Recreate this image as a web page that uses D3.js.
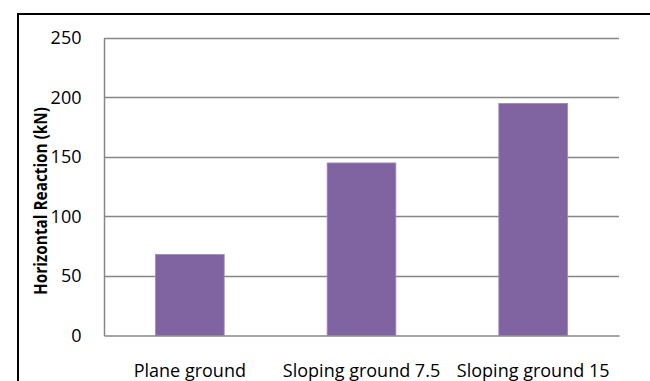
<!DOCTYPE html>
<html>
<head>
<meta charset="utf-8">
<script src="https://cdn.jsdelivr.net/npm/d3@7"></script>
<style>
  html, body { margin: 0; padding: 0; background: #fff; }
  svg { display: block; }
  text { font-family: "Open Sans", "Liberation Sans", sans-serif; fill: #000; }
</style>
</head>
<body>
<svg id="chart" width="650" height="381"></svg>
<script>
// Horizontal reaction for each ground configuration
const categories = ["Plane ground", "Sloping ground 7.5", "Sloping ground 15"];
const reactions = [68, 145, 195];
const yTicks = [0, 50, 100, 150, 200, 250];
const yTitle = "Horizontal Reaction (kN)";

const svg = d3.select("#chart");
const plot = { left: 104, right: 619, top: 38, bottom: 335.5 };
const labelSize = 18;

// Chart-area frame (top and left edges visible)
svg.append("path")
  .attr("d", "M18,400 L18,14 L660,14")
  .attr("fill", "none")
  .attr("stroke", "#000")
  .attr("stroke-width", 2);

const x = d3.scaleBand()
  .domain(categories)
  .range([plot.left, plot.right])
  .paddingInner(0.6)
  .paddingOuter(0.3);

const y = d3.scaleLinear()
  .domain([0, 250])
  .range([plot.bottom, plot.top]);

// Horizontal gridlines
svg.append("g")
  .selectAll("line")
  .data(yTicks.filter(t => t > 0))
  .join("line")
  .attr("x1", plot.left)
  .attr("x2", plot.right)
  .attr("y1", d => Math.round(y(d)) + 0.5)
  .attr("y2", d => Math.round(y(d)) + 0.5)
  .attr("stroke", "#868686")
  .attr("stroke-width", 1.3);

// Bars
svg.append("g")
  .selectAll("rect")
  .data(reactions)
  .join("rect")
  .attr("x", (d, i) => x(categories[i]))
  .attr("width", x.bandwidth())
  .attr("y", d => y(d))
  .attr("height", d => y(0) - y(d))
  .attr("fill", "#8064A2")
  .attr("stroke", "#9d86bb")
  .attr("stroke-width", 0.8);

// Y axis (value axis) with left spine
const yAxis = d3.axisLeft(y).tickValues(yTicks).tickSize(0).tickPadding(22.5);
const gy = svg.append("g")
  .attr("transform", `translate(${plot.left},0)`)
  .call(yAxis);
gy.select(".domain").attr("stroke", "#868686").attr("stroke-width", 1.5);
gy.selectAll("text")
  .attr("font-size", labelSize)
  .attr("font-family", "'Open Sans', sans-serif")
  .attr("fill", "#000");

// X axis (category axis)
const xAxis = d3.axisBottom(x).tickSize(0).tickPadding(29);
const gx = svg.append("g")
  .attr("transform", `translate(0,${plot.bottom})`)
  .call(xAxis);
gx.select(".domain").attr("stroke", "#868686").attr("stroke-width", 1.5);
gx.selectAll("text")
  .attr("font-size", labelSize)
  .attr("font-family", "'Open Sans', sans-serif")
  .attr("fill", "#000");

// Y axis title
svg.append("text")
  .attr("transform", "translate(46.5,201) rotate(-90)")
  .attr("text-anchor", "middle")
  .attr("font-size", 17)
  .attr("font-weight", "bold")
  .attr("textLength", 188)
  .attr("lengthAdjust", "spacingAndGlyphs")
  .text(yTitle);
</script>
</body>
</html>
